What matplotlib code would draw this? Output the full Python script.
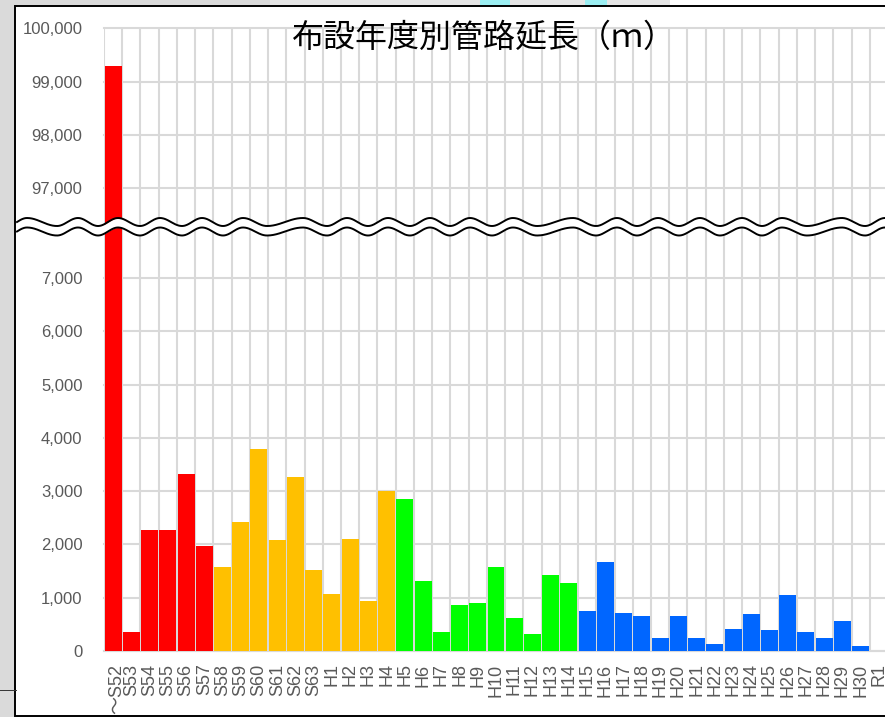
import numpy as np
import matplotlib
matplotlib.use("Agg")
import matplotlib.pyplot as plt
from matplotlib.patches import Rectangle
from matplotlib.transforms import ScaledTranslation

plt.rcParams['font.family'] = ['Liberation Sans', 'Noto Sans CJK JP', 'DejaVu Sans']

TITLE = "布設年度別管路延長（ｍ）"
labels = ["～S52","S53","S54","S55","S56","S57","S58","S59","S60","S61","S62","S63",
          "H1","H2","H3","H4","H5","H6","H7","H8","H9","H10","H11","H12","H13","H14",
          "H15","H16","H17","H18","H19","H20","H21","H22","H23","H24","H25","H26","H27",
          "H28","H29","H30","R1"]
values = [99300,350,2270,2270,3330,1970,1580,2430,3800,2090,3270,1520,
          1070,2100,930,3000,2850,1320,360,860,900,1580,620,320,1420,1270,
          750,1680,720,660,240,660,240,140,410,700,390,1050,350,240,570,90,0]
colors = ["#FF0000"]*6 + ["#FFC000"]*10 + ["#00FF00"]*10 + ["#0066FF"]*17
yticks = [0,1000,2000,3000,4000,5000,6000,7000,97000,98000,99000,100000]

W, H = 885, 717
fig = plt.figure(figsize=(W/100, H/100), dpi=100, facecolor="white")

# backdrop + frame
bg = fig.add_axes([0,0,1,1], zorder=0)
bg.set_xlim(0,W); bg.set_ylim(H,0); bg.axis("off")
bg.add_patch(Rectangle((0,0),15,H,color="#dadada",lw=0))
bg.add_patch(Rectangle((0,0),270,6,color="#dadada",lw=0))
bg.add_patch(Rectangle((270,0),400,6,color="#e6e6e6",lw=0))
bg.add_patch(Rectangle((480,0),30,6,color="#9beef2",lw=0))
bg.add_patch(Rectangle((585,0),22,6,color="#9beef2",lw=0))
bg.add_patch(Rectangle((15,6),W,710,facecolor="white",edgecolor="black",lw=1.4))
bg.plot([0,16],[690,690],color="#333333",lw=0.7)

# broken axis scale
B0, B1, B1POS = 7000, 97000, 8690
def fwd(v):
    v = np.asarray(v, dtype=float)
    return np.where(v<=B0, v, np.where(v<=B1, B0+(v-B0)*(B1POS-B0)/(B1-B0), v-B1+B1POS))
def inv(u):
    u = np.asarray(u, dtype=float)
    return np.where(u<=B0, u, np.where(u<=B1POS, B0+(u-B0)*(B1-B0)/(B1POS-B0), u+B1-B1POS))

left, right, top, bottom = 104.0, 888.0, 28.5, 651.0
ax = fig.add_axes([left/W, 1-bottom/H, (right-left)/W, (bottom-top)/H], zorder=1)
ax.patch.set_alpha(0)
ax.set_yscale("function", functions=(fwd, inv))
x = np.arange(len(values))
ax.bar(x, values, width=0.93, color=colors, edgecolor="none", zorder=3)
ax.set_xlim(-0.5, len(values)-0.5)
ax.set_ylim(0, 100000)
ax.set_yticks(yticks, [f"{v:,}" for v in yticks])
ax.yaxis.set_minor_locator(matplotlib.ticker.NullLocator())
ax.set_xticks(x, labels, rotation=90)
ax.set_xticks(np.arange(-0.5, len(values)), minor=True)
ax.tick_params(axis="both", which="major", length=0, labelsize=12, labelcolor="#595959")
ax.tick_params(axis="x", which="major", labelsize=13)
ax.tick_params(axis="x", which="minor", length=0)
ax.tick_params(axis="x", pad=9)
ax.tick_params(axis="y", pad=15.5)
ax.grid(True, axis="y", which="major", color="#D9D9D9", lw=1.5, zorder=1, clip_on=False)
ax.grid(True, axis="x", which="minor", color="#D9D9D9", lw=1.5, zorder=1)
ax.grid(False, axis="x", which="major")
ax.set_axisbelow(True)
for s in ax.spines.values():
    s.set_visible(False)
ax.spines["bottom"].set_visible(True)
ax.spines["bottom"].set_color("#D9D9D9")
ax.spines["bottom"].set_linewidth(1.5)
lab0 = ax.get_xticklabels()[0]
lab0.set_transform(lab0.get_transform() + ScaledTranslation(3.5/100, 0, fig.dpi_scale_trans))

# overlay: break wave and title
ov = fig.add_axes([0,0,1,1], zorder=2)
ov.set_xlim(0,W); ov.set_ylim(H,0); ov.axis("off"); ov.patch.set_alpha(0)
ext_x = np.array([7,27,57,78,98,118,140,160,182,202,223,243,267,303,327,347,368,388,410,430,450,
                  470,492,513,537,573,596,617,637,658,679,700,720,742,762,782,807,842,865,885], float)
n = len(ext_x)
ext_hi = np.array([218 if i%2==1 else 226 for i in range(n)], float)
xs = np.linspace(17, 885, 1800)
idx = np.clip(np.searchsorted(ext_x, xs)-1, 0, n-2)
t = (xs-ext_x[idx])/(ext_x[idx+1]-ext_x[idx])
ys = ext_hi[idx] + (ext_hi[idx+1]-ext_hi[idx])*(1-np.cos(np.pi*t))/2
ov.fill_between(xs, ys, ys+9.5, color="white", lw=0, zorder=1)
ov.plot(xs, ys, color="black", lw=1.4, zorder=2)
ov.plot(xs, ys+9.5, color="black", lw=1.4, zorder=2)
ov.text(484, 38, TITLE, ha="center", va="center", fontsize=23, color="black",
        family=["Noto Sans CJK JP"], zorder=3)

fig.savefig("out.png", dpi=100)
